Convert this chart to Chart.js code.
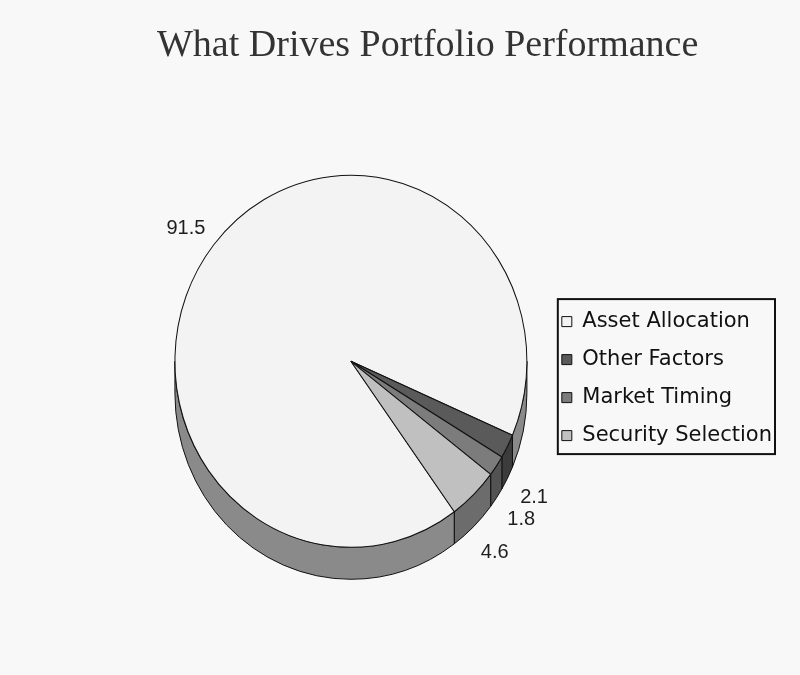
<!DOCTYPE html>
<html>
<head>
<meta charset="utf-8">
<script src="https://cdn.jsdelivr.net/npm/chart.js@4.4.1/dist/chart.umd.min.js"></script>
<style>
  html, body { margin: 0; padding: 0; background: #f8f8f8; }
  #wrap { width: 800px; height: 675px; }
</style>
</head>
<body>
<div id="wrap"><canvas id="pie3d"></canvas></div>
<script>
const categories = ['Asset Allocation', 'Other Factors', 'Market Timing', 'Security Selection'];
const values = [91.5, 2.1, 1.8, 4.6];
const topColors = ['#f3f3f3', '#5a5a5a', '#7c7c7c', '#c0c0c0'];
const sideColors = ['#8a8a8a', '#3c3c3c', '#525252', '#6c6c6c'];

// 3D look: pie squashed a bit vertically, with a wall underneath
const DEPTH = 32;
const SQUASH = 186 / 176;

const pie3d = {
    id: 'pie3d',
    beforeDatasetsDraw(chart) {
        const ctx = chart.ctx;
        const arcs = chart.getDatasetMeta(0).data;
        const cx = arcs[0].x, cy = arcs[0].y, r = arcs[0].outerRadius;

        ctx.save();
        ctx.lineWidth = 1;
        ctx.strokeStyle = '#111';
        arcs.forEach((arc, i) => {
            const turn = Math.PI * 2;
            const k = Math.floor(arc.startAngle / turn);
            const s = arc.startAngle - k * turn;
            const e = arc.endAngle - k * turn;
            // only the front half (0..PI) of the wall can be seen
            [[0, Math.PI], [turn, turn + Math.PI]].forEach(([lo, hi]) => {
                const a0 = Math.max(s, lo), a1 = Math.min(e, hi);
                if (a1 <= a0) return;
                ctx.beginPath();
                ctx.ellipse(cx, cy, r, r * SQUASH, 0, a0, a1);
                ctx.ellipse(cx, cy + DEPTH, r, r * SQUASH, 0, a1, a0, true);
                ctx.closePath();
                ctx.fillStyle = sideColors[i];
                ctx.fill();
                ctx.stroke();
            });
        });
        ctx.restore();

        ctx.save();
        ctx.translate(cx, cy);
        ctx.scale(1, SQUASH);
        ctx.translate(-cx, -cy);
    },
    afterDatasetsDraw(chart) {
        const ctx = chart.ctx;
        ctx.restore();

        // value labels outside the slices
        const arcs = chart.getDatasetMeta(0).data;
        ctx.save();
        ctx.font = '20px "Liberation Sans", Arial, sans-serif';
        ctx.fillStyle = '#1e1e1e';
        ctx.textAlign = 'center';
        ctx.textBaseline = 'middle';
        arcs.forEach((arc, i) => {
            const mid = (arc.startAngle + arc.endAngle) / 2;
            const c = Math.cos(mid), s = Math.sin(mid);
            const text = values[i].toFixed(1);
            const w = ctx.measureText(text).width;
            const dist = arc.outerRadius + 16;
            const x = arc.x + dist * c + c * w / 2;
            const y = arc.y + dist * SQUASH * s + s * 10 + (s > 0 ? DEPTH + 7 : 0);
            ctx.fillText(text, x, y);
        });
        ctx.restore();
    },
    afterDraw(chart) {
        // frame round the legend
        const boxes = chart.legend.legendHitBoxes;
        const left = Math.min(...boxes.map(b => b.left)) - 4;
        const top = Math.min(...boxes.map(b => b.top)) - 12;
        const right = Math.max(...boxes.map(b => b.left + b.width)) + 3;
        const bottom = Math.max(...boxes.map(b => b.top + b.height)) + 8;
        const ctx = chart.ctx;
        ctx.save();
        ctx.strokeStyle = '#111';
        ctx.lineWidth = 2;
        ctx.strokeRect(left, top, right - left, bottom - top);
        ctx.restore();
    }
};

const ctx = document.getElementById('pie3d').getContext('2d');

new Chart(ctx, {
    type: 'pie',
    data: {
        labels: categories,
        datasets: [{
            data: values,
            backgroundColor: topColors,
            borderColor: '#111',
            borderWidth: 1,
            radius: 176
        }]
    },
    options: {
        responsive: true,
        maintainAspectRatio: false,
        animation: false,
        rotation: 144,
        layout: {
            padding: { top: 20, left: 157, right: 18, bottom: 137 }
        },
        plugins: {
            title: {
                display: true,
                align: 'start',
                text: 'What Drives Portfolio Performance',
                color: '#333',
                font: { family: '"Liberation Serif", "Times New Roman", serif', size: 38, weight: 'normal' },
                padding: { top: 3, bottom: 116 }
            },
            legend: {
                position: 'right',
                title: { display: true, text: '', padding: { top: 168, bottom: 0 }, font: { size: 26 } },
                labels: {
                    boxWidth: 10,
                    boxHeight: 10,
                    padding: 17,
                    color: '#111',
                    font: { family: '"DejaVu Sans", sans-serif', size: 21 }
                }
            },
            tooltip: { enabled: false }
        }
    },
    plugins: [pie3d]
});
</script>
</body>
</html>
